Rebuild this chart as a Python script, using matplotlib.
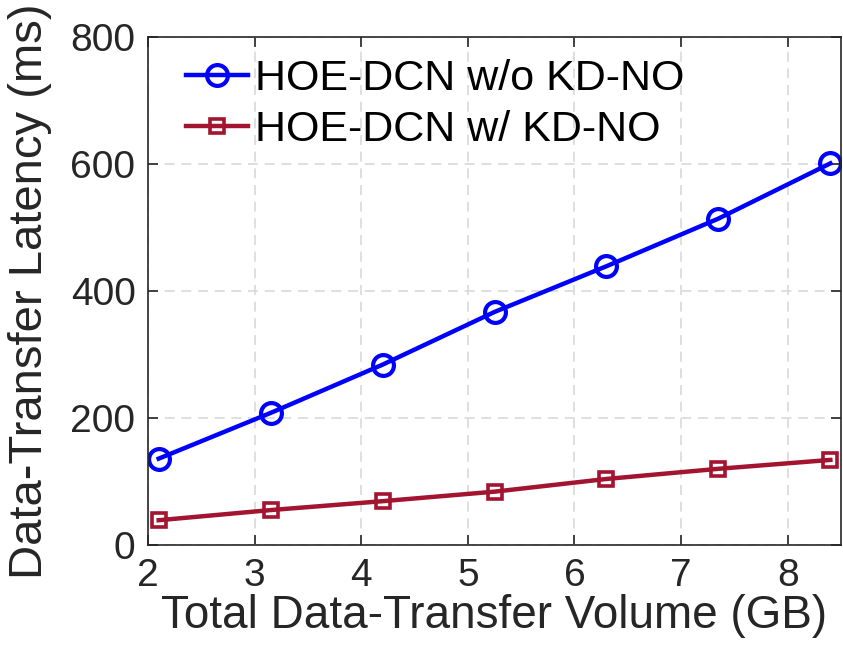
import matplotlib
matplotlib.use("Agg")
import matplotlib.pyplot as plt

plt.rcParams['font.family'] = ['Liberation Sans', 'DejaVu Sans']

volume_gb = [2.1, 3.15, 4.2, 5.25, 6.3, 7.35, 8.4]
latency_without = [136, 208, 284, 367, 439, 514, 601]
latency_with = [39, 55, 69, 84, 104, 120, 134]
label_without = "HOE-DCN w/o KD-NO"
label_with = "HOE-DCN w/ KD-NO"
xticks = [2, 3, 4, 5, 6, 7, 8]
yticks = [0, 200, 400, 600, 800]

fig = plt.figure(figsize=(8.43, 6.6), dpi=100)
ax = fig.add_axes([148 / 843, 1 - 545 / 660, (841 - 148) / 843, (545 - 37) / 660])

ax.plot(volume_gb, latency_without, color='#0000FF', lw=3.2, marker='o',
        ms=15, mfc='none', mec='#0000FF', mew=3.0, label=label_without)
ax.plot(volume_gb, latency_with, color='#A2142F', lw=3.2, marker='s',
        ms=10.5, mfc='none', mec='#A2142F', mew=2.6, label=label_with)

ax.set_xlim(2, 8.5)
ax.set_ylim(0, 800)
ax.set_xticks(xticks)
ax.set_yticks(yticks)
ax.grid(True, linestyle=(0, (6, 4)), color='#d9d9d9', lw=1.2)
ax.set_axisbelow(True)
ax.tick_params(direction='in', length=7, width=1.2, top=True, right=True,
               labelsize=28, pad=9, colors='#262626', labelcolor='#262626')
for s in ax.spines.values():
    s.set_linewidth(1.2)
    s.set_color('#262626')

ax.set_xlabel("Total Data-Transfer Volume (GB)", fontsize=33, color='#262626', labelpad=0)
ax.set_ylabel("Data-Transfer Latency (ms)", fontsize=34, color='#262626')
ax.yaxis.set_label_coords(-0.138, 0.5)

ax.legend(loc='upper left', frameon=False, fontsize=31, handlelength=1.45,
          handletextpad=0.15, borderaxespad=0.0, labelspacing=0.25,
          bbox_to_anchor=(0.03, 0.99))

fig.savefig("out.png", dpi=100)
